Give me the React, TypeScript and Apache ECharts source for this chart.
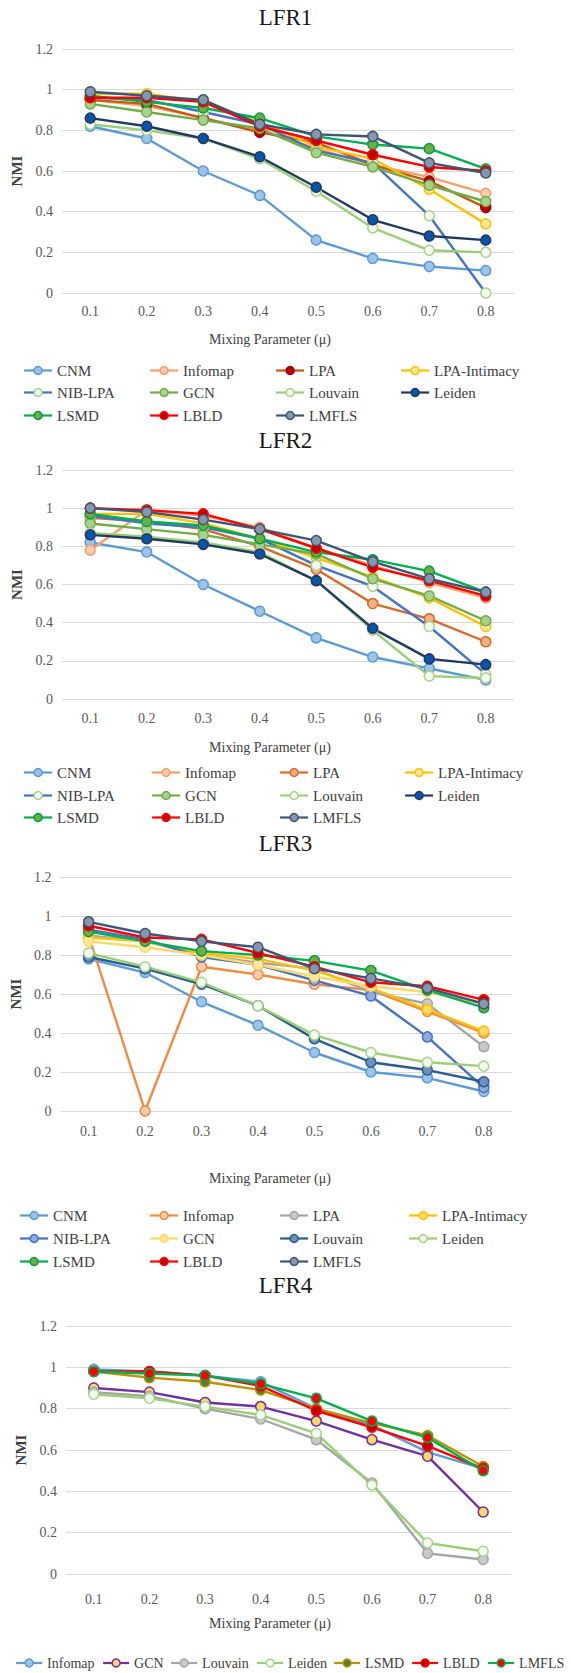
import { useEffect, useRef } from "react";
import * as echarts from "echarts";

// ---------- shared axis content ----------
const CATEGORIES = ["0.1", "0.2", "0.3", "0.4", "0.5", "0.6", "0.7", "0.8"];
const Y_MIN = 0;
const Y_MAX = 1.2;
const Y_STEP = 0.2;
const PANEL_TITLES = ["LFR1", "LFR2", "LFR3", "LFR4"];
const X_AXIS_TITLE = "Mixing Parameter (μ)";
const Y_AXIS_TITLE = "NMI";

// ---------- LFR1 ----------
const lfr1_CNM = [0.82, 0.76, 0.6, 0.48, 0.26, 0.17, 0.13, 0.11];
const lfr1_Infomap = [0.95, 0.92, 0.86, 0.8, 0.71, 0.63, 0.57, 0.49];
const lfr1_LPA = [0.95, 0.93, 0.86, 0.79, 0.74, 0.63, 0.55, 0.42];
const lfr1_LPAIntimacy = [0.98, 0.98, 0.94, 0.84, 0.72, 0.66, 0.51, 0.34];
const lfr1_NIBLPA = [0.96, 0.95, 0.89, 0.83, 0.7, 0.64, 0.38, 0.0];
const lfr1_GCN = [0.93, 0.89, 0.85, 0.81, 0.69, 0.62, 0.53, 0.45];
const lfr1_Louvain = [0.83, 0.8, 0.76, 0.66, 0.5, 0.32, 0.21, 0.2];
const lfr1_Leiden = [0.86, 0.82, 0.76, 0.67, 0.52, 0.36, 0.28, 0.26];
const lfr1_LSMD = [0.97, 0.94, 0.91, 0.86, 0.77, 0.73, 0.71, 0.61];
const lfr1_LBLD = [0.96, 0.96, 0.94, 0.82, 0.75, 0.68, 0.62, 0.6];
const lfr1_LMFLS = [0.99, 0.97, 0.95, 0.83, 0.78, 0.77, 0.64, 0.59];

// ---------- LFR2 ----------
const lfr2_CNM = [0.82, 0.77, 0.6, 0.46, 0.32, 0.22, 0.16, 0.1];
const lfr2_Infomap = [0.78, 0.99, 0.96, 0.9, 0.79, 0.7, 0.61, 0.53];
const lfr2_LPA = [0.95, 0.93, 0.89, 0.8, 0.68, 0.5, 0.42, 0.3];
const lfr2_LPAIntimacy = [0.97, 0.97, 0.92, 0.84, 0.74, 0.64, 0.53, 0.38];
const lfr2_NIBLPA = [0.96, 0.92, 0.9, 0.84, 0.7, 0.59, 0.38, 0.13];
const lfr2_GCN = [0.92, 0.89, 0.86, 0.81, 0.76, 0.63, 0.54, 0.41];
const lfr2_Louvain = [0.87, 0.85, 0.82, 0.77, 0.62, 0.36, 0.12, 0.11];
const lfr2_Leiden = [0.86, 0.84, 0.81, 0.76, 0.62, 0.37, 0.21, 0.18];
const lfr2_LSMD = [0.97, 0.93, 0.91, 0.84, 0.77, 0.73, 0.67, 0.56];
const lfr2_LBLD = [1.0, 0.99, 0.97, 0.89, 0.79, 0.69, 0.62, 0.54];
const lfr2_LMFLS = [1.0, 0.98, 0.94, 0.89, 0.83, 0.72, 0.63, 0.56];

// ---------- LFR3 ----------
const lfr3_CNM = [0.78, 0.71, 0.56, 0.44, 0.3, 0.2, 0.17, 0.1];
const lfr3_Infomap = [0.9, 0.0, 0.74, 0.7, 0.65, 0.62, 0.51, 0.4];
const lfr3_LPA = [0.9, 0.87, 0.8, 0.76, 0.73, 0.61, 0.55, 0.33];
const lfr3_LPAIntimacy = [0.89, 0.87, 0.81, 0.78, 0.72, 0.63, 0.52, 0.41];
const lfr3_NIBLPA = [0.93, 0.88, 0.79, 0.75, 0.67, 0.59, 0.38, 0.12];
const lfr3_GCN = [0.87, 0.84, 0.8, 0.75, 0.69, 0.64, 0.61, 0.55];
const lfr3_Louvain = [0.79, 0.73, 0.65, 0.54, 0.37, 0.25, 0.21, 0.15];
const lfr3_Leiden = [0.81, 0.74, 0.66, 0.54, 0.39, 0.3, 0.25, 0.23];
const lfr3_LSMD = [0.92, 0.87, 0.82, 0.8, 0.77, 0.72, 0.62, 0.53];
const lfr3_LBLD = [0.95, 0.89, 0.88, 0.81, 0.74, 0.66, 0.64, 0.57];
const lfr3_LMFLS = [0.97, 0.91, 0.87, 0.84, 0.73, 0.68, 0.63, 0.55];

// ---------- LFR4 ----------
const lfr4_Infomap = [0.99, 0.98, 0.96, 0.93, 0.8, 0.72, 0.59, 0.51];
const lfr4_GCN = [0.9, 0.88, 0.83, 0.81, 0.74, 0.65, 0.57, 0.3];
const lfr4_Louvain = [0.88, 0.86, 0.8, 0.75, 0.65, 0.44, 0.1, 0.07];
const lfr4_Leiden = [0.87, 0.85, 0.81, 0.77, 0.68, 0.43, 0.15, 0.11];
const lfr4_LSMD = [0.98, 0.95, 0.93, 0.89, 0.8, 0.73, 0.67, 0.52];
const lfr4_LBLD = [0.98, 0.98, 0.96, 0.91, 0.79, 0.71, 0.62, 0.51];
const lfr4_LMFLS = [0.98, 0.97, 0.96, 0.92, 0.85, 0.74, 0.66, 0.5];

// ---------- styles (line, marker fill, marker border) ----------
type St = { line: string; fill: string; border: string };
const ST: Record<string, St> = {
  cnm: { line: "#5b9bd5", fill: "#9dc3e6", border: "#5b9bd5" },
  infomapLight: { line: "#f6a06a", fill: "#f8cbad", border: "#f4a06a" },
  infomapOrange: { line: "#f5893f", fill: "#f8cbad", border: "#f4883c" },
  lpaBrown: { line: "#c55a11", fill: "#c00000", border: "#a00000" },
  lpaOrange: { line: "#d9692b", fill: "#f4b183", border: "#d9692b" },
  lpaGray: { line: "#a5a5a5", fill: "#c9c9c9", border: "#a5a5a5" },
  gold: { line: "#ffc000", fill: "#ffe699", border: "#ffc000" },
  goldB: { line: "#ffc000", fill: "#ffd966", border: "#ffc000" },
  nibGreenMk: { line: "#4472c4", fill: "#f2f8ee", border: "#a9d18e" },
  nibBlue: { line: "#4472c4", fill: "#8faadc", border: "#4472c4" },
  gcnGreen: { line: "#70ad47", fill: "#a9d18e", border: "#70ad47" },
  gcnYellow: { line: "#ffd966", fill: "#ffe699", border: "#ffd966" },
  gcnPurple: { line: "#7030a0", fill: "#ffd966", border: "#7030a0" },
  lightGreen: { line: "#9bcf74", fill: "#f3f9ee", border: "#a9d18e" },
  navy: { line: "#1f3864", fill: "#0b54a8", border: "#1f3864" },
  steel: { line: "#255e91", fill: "#6f8fbf", border: "#255e91" },
  lsmd: { line: "#00b050", fill: "#70ad47", border: "#00a040" },
  lbld: { line: "#ff0000", fill: "#c00000", border: "#ff0000" },
  lmfls: { line: "#3f5578", fill: "#8497b0", border: "#44546a" },
  lsmdGold: { line: "#bf9000", fill: "#548235", border: "#bf9000" },
  lmflsGreen: { line: "#00b050", fill: "#ff0000", border: "#00b050" },
};

type Ser = { name: string; data: number[]; st: St };
type Panel = {
  title: string;
  series: Ser[];
  left: number;
  width: number;
  top: number;
  height: number;
  titleY: number;
  xTitleY: number;
  xLabelMargin: number;
  legendX: number[];
  legendY: number[];
  legendIconW: number;
  legendFont: number;
};

const panels: Panel[] = [
  {
    title: PANEL_TITLES[0],
    series: [
      { name: "CNM", data: lfr1_CNM, st: ST.cnm },
      { name: "Infomap", data: lfr1_Infomap, st: ST.infomapLight },
      { name: "LPA", data: lfr1_LPA, st: ST.lpaBrown },
      { name: "LPA-Intimacy", data: lfr1_LPAIntimacy, st: ST.gold },
      { name: "NIB-LPA", data: lfr1_NIBLPA, st: ST.nibGreenMk },
      { name: "GCN", data: lfr1_GCN, st: ST.gcnGreen },
      { name: "Louvain", data: lfr1_Louvain, st: ST.lightGreen },
      { name: "Leiden", data: lfr1_Leiden, st: ST.navy },
      { name: "LSMD", data: lfr1_LSMD, st: ST.lsmd },
      { name: "LBLD", data: lfr1_LBLD, st: ST.lbld },
      { name: "LMFLS", data: lfr1_LMFLS, st: ST.lmfls },
    ],
    left: 62,
    width: 452,
    top: 49,
    height: 244,
    titleY: 19,
    xTitleY: 339,
    xLabelMargin: 11,
    legendX: [23, 149, 275, 400],
    legendY: [368, 390, 413],
    legendIconW: 28,
    legendFont: 15,
  },
  {
    title: PANEL_TITLES[1],
    series: [
      { name: "CNM", data: lfr2_CNM, st: ST.cnm },
      { name: "Infomap", data: lfr2_Infomap, st: ST.infomapLight },
      { name: "LPA", data: lfr2_LPA, st: ST.lpaOrange },
      { name: "LPA-Intimacy", data: lfr2_LPAIntimacy, st: ST.gold },
      { name: "NIB-LPA", data: lfr2_NIBLPA, st: ST.nibGreenMk },
      { name: "GCN", data: lfr2_GCN, st: ST.gcnGreen },
      { name: "Louvain", data: lfr2_Louvain, st: ST.lightGreen },
      { name: "Leiden", data: lfr2_Leiden, st: ST.navy },
      { name: "LSMD", data: lfr2_LSMD, st: ST.lsmd },
      { name: "LBLD", data: lfr2_LBLD, st: ST.lbld },
      { name: "LMFLS", data: lfr2_LMFLS, st: ST.lmfls },
    ],
    left: 62,
    width: 452,
    top: 470,
    height: 229,
    titleY: 442,
    xTitleY: 747,
    xLabelMargin: 12,
    legendX: [23, 151, 279, 404],
    legendY: [770, 793, 815],
    legendIconW: 28,
    legendFont: 15,
  },
  {
    title: PANEL_TITLES[2],
    series: [
      { name: "CNM", data: lfr3_CNM, st: ST.cnm },
      { name: "Infomap", data: lfr3_Infomap, st: ST.infomapOrange },
      { name: "LPA", data: lfr3_LPA, st: ST.lpaGray },
      { name: "LPA-Intimacy", data: lfr3_LPAIntimacy, st: ST.goldB },
      { name: "NIB-LPA", data: lfr3_NIBLPA, st: ST.nibBlue },
      { name: "GCN", data: lfr3_GCN, st: ST.gcnYellow },
      { name: "Louvain", data: lfr3_Louvain, st: ST.steel },
      { name: "Leiden", data: lfr3_Leiden, st: ST.lightGreen },
      { name: "LSMD", data: lfr3_LSMD, st: ST.lsmd },
      { name: "LBLD", data: lfr3_LBLD, st: ST.lbld },
      { name: "LMFLS", data: lfr3_LMFLS, st: ST.lmfls },
    ],
    left: 60,
    width: 452,
    top: 877,
    height: 234,
    titleY: 845,
    xTitleY: 1178,
    xLabelMargin: 13,
    legendX: [19, 149, 279, 408],
    legendY: [1213, 1236, 1259],
    legendIconW: 28,
    legendFont: 15,
  },
  {
    title: PANEL_TITLES[3],
    series: [
      { name: "Infomap", data: lfr4_Infomap, st: ST.cnm },
      { name: "GCN", data: lfr4_GCN, st: ST.gcnPurple },
      { name: "Louvain", data: lfr4_Louvain, st: ST.lpaGray },
      { name: "Leiden", data: lfr4_Leiden, st: ST.lightGreen },
      { name: "LSMD", data: lfr4_LSMD, st: ST.lsmdGold },
      { name: "LBLD", data: lfr4_LBLD, st: ST.lbld },
      { name: "LMFLS", data: lfr4_LMFLS, st: ST.lmflsGreen },
    ],
    left: 66,
    width: 445,
    top: 1326,
    height: 248,
    titleY: 1287,
    xTitleY: 1623,
    xLabelMargin: 18,
    legendX: [15, 102, 170, 256, 333, 411, 487],
    legendY: [1661],
    legendIconW: 26,
    legendFont: 14,
  },
];

const FONT = "Liberation Serif";

function buildOption() {
  const title = panels.map((p) => ({
    text: p.title,
    left: "center",
    top: p.titleY - 13,
    padding: 0,
    textStyle: { fontFamily: FONT, fontSize: 23, fontWeight: "normal", color: "#1a1a1a" },
  }));
  const grid = panels.map((p) => ({ left: p.left, top: p.top, width: p.width, height: p.height }));
  const xAxis = panels.map((p, i) => ({
    type: "category",
    gridIndex: i,
    data: CATEGORIES,
    boundaryGap: true,
    axisLine: { show: false },
    axisTick: { show: false },
    axisLabel: { margin: p.xLabelMargin, fontFamily: FONT, fontSize: 14, color: "#595959" },
  }));
  const yAxis = panels.map((_, i) => ({
    type: "value",
    gridIndex: i,
    min: Y_MIN,
    max: Y_MAX,
    interval: Y_STEP,
    name: Y_AXIS_TITLE,
    nameLocation: "middle",
    nameRotate: 90,
    nameGap: 31,
    nameTextStyle: { fontFamily: FONT, fontSize: 15, fontWeight: "bold", color: "#404040" },
    axisLine: { show: false },
    axisTick: { show: false },
    axisLabel: { margin: 9, fontFamily: FONT, fontSize: 14, color: "#595959" },
    splitLine: { lineStyle: { color: "#d9d9d9", width: 1 } },
  }));
  const legend: any[] = [];
  panels.forEach((p) => {
    const cols = p.legendX.length;
    p.series.forEach((s, k) => {
      legend.push({
        left: p.legendX[k % cols],
        top: p.legendY[Math.floor(k / cols)] - 5,
        padding: 0,
        itemWidth: p.legendIconW,
        itemHeight: 10,
        selectedMode: false,
        textStyle: { fontFamily: FONT, fontSize: p.legendFont, color: "#404040" },
        data: [
          {
            name: s.name,
            itemStyle: { color: s.st.fill, borderColor: s.st.border, borderWidth: 1.5 },
            lineStyle: { color: s.st.line, width: 2.2 },
          },
        ],
      });
    });
  });
  const graphic = panels.map((p) => ({
    type: "text",
    x: 270,
    y: p.xTitleY,
    style: {
      text: X_AXIS_TITLE,
      fontFamily: FONT,
      fontSize: 14,
      fill: "#404040",
      textAlign: "center",
      textVerticalAlign: "middle",
      align: "center",
      verticalAlign: "middle",
    },
  }));
  const series: any[] = [];
  panels.forEach((p, i) => {
    p.series.forEach((s) => {
      series.push({
        type: "line",
        name: s.name,
        xAxisIndex: i,
        yAxisIndex: i,
        data: s.data,
        symbol: "circle",
        symbolSize: 10,
        lineStyle: { color: s.st.line, width: 2.4 },
        itemStyle: { color: s.st.fill, borderColor: s.st.border, borderWidth: 1.5 },
        emphasis: { disabled: true },
        legendHoverLink: false,
      });
    });
  });
  return {
    animation: false,
    backgroundColor: "#ffffff",
    title,
    grid,
    xAxis,
    yAxis,
    legend,
    graphic,
    series,
  };
}

export default function App() {
  const ref = useRef<HTMLDivElement>(null);
  useEffect(() => {
    document.body.style.margin = "0";
    if (!ref.current) return;
    const chart = echarts.init(ref.current, undefined, { renderer: "svg" });
    chart.setOption(buildOption() as any);
    return () => chart.dispose();
  }, []);
  return <div ref={ref} style={{ width: 571, height: 1673 }} />;
}
